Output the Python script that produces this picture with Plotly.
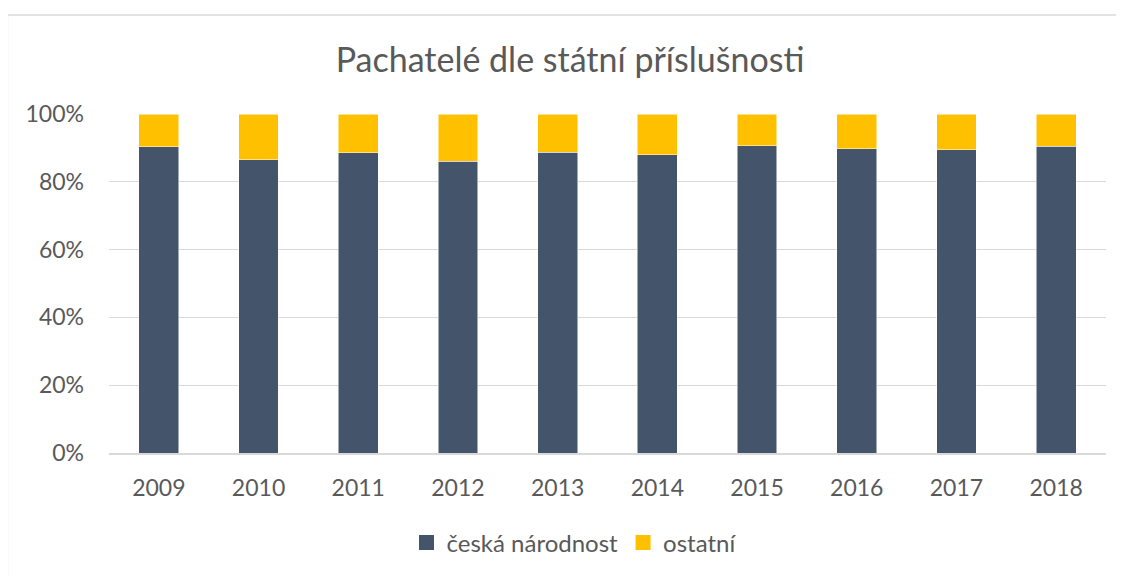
import plotly.graph_objects as go

years = ["2009", "2010", "2011", "2012", "2013", "2014", "2015", "2016", "2017", "2018"]
ceska = [90.3, 86.5, 88.6, 86.1, 88.7, 88.0, 90.6, 89.7, 89.5, 90.5]
ostatni = [round(100 - v, 1) for v in ceska]
y_ticks = [0, 20, 40, 60, 80, 100]
y_tick_labels = ["0%", "20%", "40%", "60%", "80%", "100%"]
series_names = ["česká národnost", "ostatní"]
series_colors = ["#44546a", "#ffc000"]

FONT = "Lato, Open Sans, sans-serif"
OFF = 8  # page body margin
W, H = 1124 - OFF, 577 - OFF
L, T = 109 - OFF, 114 - OFF
R = 1124 - 1106
B = 577 - 453
pw, ph = W - L - R, H - T - B

fig = go.Figure()
for vals, name, col in zip([ceska, ostatni], series_names, series_colors):
    fig.add_trace(go.Bar(x=years, y=vals, name=name, showlegend=False, legendgroup=name,
                         marker=dict(color=col, line=dict(color="#ffffff", width=0.5))))
for name, col in zip(series_names, series_colors):
    fig.add_trace(go.Scatter(x=[None], y=[None], mode="markers", name=name, legendgroup=name,
                             marker=dict(symbol="square", size=15, color=col)))

fig.update_layout(
    width=W, height=H,
    barmode="stack", bargap=0.6,
    margin=dict(l=L, r=R, t=T, b=B),
    paper_bgcolor="white", plot_bgcolor="white",
    font=dict(family=FONT, color="#595959", size=23),
    title=dict(text="Pachatelé dle státní příslušnosti", x=(570 - OFF) / W, xanchor="center",
               y=1 - (60 - OFF) / H, yanchor="middle", font=dict(size=34, color="#595959", family=FONT)),
    legend=dict(orientation="h", x=(574 - OFF - L) / pw, xanchor="center",
                y=-(543 - 453) / ph, yanchor="middle",
                font=dict(size=24, color="#595959", family=FONT), traceorder="normal",
                itemwidth=30),
    showlegend=True,
)
fig.update_xaxes(showgrid=False, showline=True, linecolor="#d9d9d9", linewidth=1.5, ticks="",
                 ticklabelstandoff=14, tickfont=dict(size=23, color="#595959"))
fig.update_yaxes(range=[0, 100], tickvals=y_ticks, ticktext=y_tick_labels, showgrid=True,
                 gridcolor="#d9d9d9", gridwidth=1.3, zeroline=False, showline=False, ticks="",
                 ticklabelstandoff=24, tickfont=dict(size=23, color="#595959"))

# chart frame
fig.add_shape(type="rect", xref="paper", yref="paper",
              x0=(7.5 - 109) / pw, x1=(1124 + 10 - 109) / pw,
              y0=-(577 + 10 - 453) / ph, y1=(453 - 15) / ph,
              line=dict(color="#d9d9d9", width=1.3), fillcolor="rgba(0,0,0,0)", layer="below")

fig.write_html("out.html")
